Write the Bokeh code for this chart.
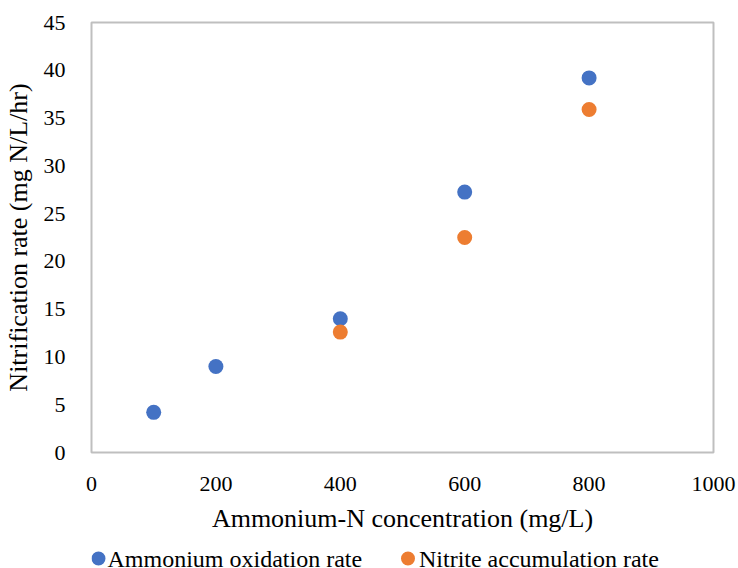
from bokeh.plotting import figure
from bokeh.models import ColumnDataSource, FixedTicker, Range1d
from bokeh.core.properties import value
from bokeh.layouts import column
from bokeh.embed import file_html
from bokeh.resources import INLINE

# Data
conc_ammonium = [100, 200, 400, 600, 800]
ammonium_oxidation_rate = [4.2, 9.0, 14.0, 27.25, 39.2]
conc_nitrite = [400, 600, 800]
nitrite_accumulation_rate = [12.6, 22.5, 35.9]
x_ticks = [0, 200, 400, 600, 800, 1000]
y_ticks = [0, 5, 10, 15, 20, 25, 30, 35, 40, 45]
series_names = ["Ammonium oxidation rate", "Nitrite accumulation rate"]
series_colors = ["#4472C4", "#ED7D31"]

FONT = "Liberation Serif"

p = figure(width=738, height=538, output_backend="svg", toolbar_location=None,
           x_range=Range1d(0, 1000), y_range=Range1d(0, 45),
           min_border_left=90, min_border_right=25, min_border_top=22, min_border_bottom=86)
p.xgrid.visible = False
p.ygrid.visible = False
p.outline_line_color = "#BFBFBF"
p.outline_line_width = 2
p.background_fill_color = "white"
p.border_fill_color = "white"

src_a = ColumnDataSource(dict(x=conc_ammonium, y=ammonium_oxidation_rate))
src_n = ColumnDataSource(dict(x=conc_nitrite, y=nitrite_accumulation_rate))
p.scatter("x", "y", source=src_a, size=15, color=series_colors[0], line_color=None)
p.scatter("x", "y", source=src_n, size=15, color=series_colors[1], line_color=None)

for ax in (p.xaxis[0], p.yaxis[0]):
    ax.axis_line_color = None
    ax.major_tick_line_color = None
    ax.minor_tick_line_color = None
    ax.major_label_text_font = FONT
    ax.major_label_text_font_size = "22px"
    ax.major_label_text_color = "black"
    ax.axis_label_text_font = FONT
    ax.axis_label_text_font_size = "26px"
    ax.axis_label_text_font_style = "normal"
    ax.axis_label_text_color = "black"

p.xaxis.ticker = FixedTicker(ticks=x_ticks)
p.yaxis.ticker = FixedTicker(ticks=y_ticks)
p.xaxis.major_label_standoff = 18
p.yaxis.major_label_standoff = 20
p.xaxis.axis_label = "Ammonium-N concentration (mg/L)"
p.yaxis.axis_label = "Nitrification rate (mg N/L/hr)"
p.xaxis.axis_label_standoff = 10
p.yaxis.axis_label_standoff = 8

# Legend strip below the chart (its frame is aligned with the main frame: 90..713 px)
lg = figure(width=738, height=30, output_backend="svg", toolbar_location=None,
            x_range=Range1d(90, 713), y_range=Range1d(0, 30),
            x_axis_location=None, y_axis_location=None,
            min_border_left=90, min_border_right=25, min_border_top=0, min_border_bottom=0)
lg.xgrid.visible = False
lg.ygrid.visible = False
lg.outline_line_color = None
lg.border_fill_color = "white"
legend_marker_x = [97, 407]
legend_label_x = [106, 418]
legend_row_y = [10, 10]
lg.scatter(x=legend_marker_x, y=legend_row_y, size=14, color=series_colors, line_color=None)
lg.text(x=legend_label_x, y=legend_row_y, text=series_names, text_font=value(FONT),
        text_font_size="24px", text_color="black", text_baseline="middle", text_align="left")

open("out.html", "w").write(file_html(column(p, lg, spacing=0), INLINE))
